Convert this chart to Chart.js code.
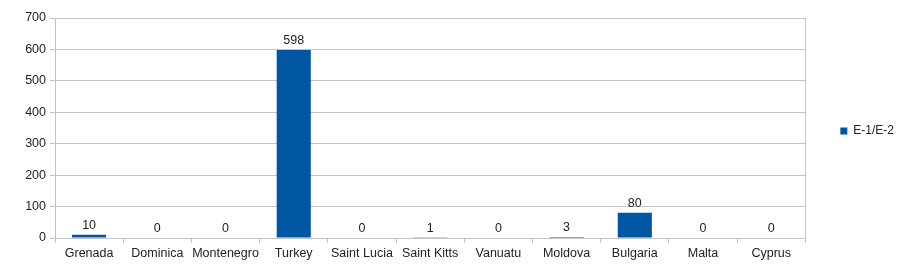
<!DOCTYPE html>
<html>
<head>
<meta charset="utf-8">
<script src="https://cdn.jsdelivr.net/npm/chart.js@4"></script>
<style>
    html, body { margin: 0; padding: 0; background: #fff; }
    #wrap { width: 904px; height: 274px; }
</style>
</head>
<body>
<div id="wrap"><canvas id="chart" width="904" height="274"></canvas></div>
<script>
const categories = ['Grenada', 'Dominica', 'Montenegro', 'Turkey', 'Saint Lucia', 'Saint Kitts', 'Vanuatu', 'Moldova', 'Bulgaria', 'Malta', 'Cyprus'];
const seriesName = 'E-1/E-2';
const seriesValues = [10, 0, 0, 598, 0, 1, 0, 3, 80, 0, 0];
const yTicks = [0, 100, 200, 300, 400, 500, 600, 700];

const barColor = '#0056a3';
const gridColor = '#c4c4c4';
const textColor = '#222';
const fontFamily = '"Liberation Sans", Arial, sans-serif';

// value labels above bars + right frame edge
const valueLabels = {
    id: 'valueLabels',
    afterLayout(chart) {
        // legend sits a little above the vertical middle
        if (chart.legend) {
            chart.legend.top -= 10;
            chart.legend.bottom -= 10;
        }
    },
    afterDatasetsDraw(chart) {
        const ctx = chart.ctx;
        const area = chart.chartArea;
        ctx.save();
        ctx.strokeStyle = gridColor;
        ctx.lineWidth = 1;
        ctx.beginPath();
        ctx.moveTo(Math.round(area.right) + 0.5, area.top);
        ctx.lineTo(Math.round(area.right) + 0.5, area.bottom);
        ctx.stroke();

        ctx.fillStyle = textColor;
        ctx.font = '12.5px ' + fontFamily;
        ctx.textAlign = 'center';
        ctx.textBaseline = 'bottom';
        chart.getDatasetMeta(0).data.forEach((bar, i) => {
            ctx.fillText(String(seriesValues[i]), bar.x, bar.y - 3);
        });
        ctx.restore();
    }
};

new Chart(document.getElementById('chart'), {
    type: 'bar',
    data: {
        labels: categories,
        datasets: [{
            label: seriesName,
            data: seriesValues,
            backgroundColor: barColor,
            borderWidth: 0,
            barPercentage: 0.5,
            categoryPercentage: 1.0
        }]
    },
    options: {
        responsive: false,
        animation: false,
        layout: { padding: { top: 18, right: 0, left: 0, bottom: 10 } },
        plugins: {
            tooltip: { enabled: false },
            legend: {
                position: 'right',
                labels: {
                    boxWidth: 7,
                    boxHeight: 7,
                    padding: 35,
                    color: textColor,
                    font: { family: fontFamily, size: 12 }
                }
            }
        },
        scales: {
            x: {
                grid: {
                    drawOnChartArea: false,
                    color: gridColor,
                    tickLength: 5,
                    offset: true
                },
                border: { color: gridColor },
                ticks: {
                    color: textColor,
                    font: { family: fontFamily, size: 12.5 },
                    padding: 3,
                    maxRotation: 0,
                    autoSkip: false
                }
            },
            y: {
                min: 0,
                max: 700,
                afterBuildTicks(axis) {
                    axis.ticks = yTicks.map(v => ({ value: v }));
                },
                grid: { color: gridColor, tickLength: 5 },
                border: { color: gridColor },
                ticks: {
                    color: textColor,
                    font: { family: fontFamily, size: 12.5 },
                    padding: 4
                },
                afterFit(axis) { axis.width = 55; }
            }
        }
    },
    plugins: [valueLabels]
});
</script>
</body>
</html>
